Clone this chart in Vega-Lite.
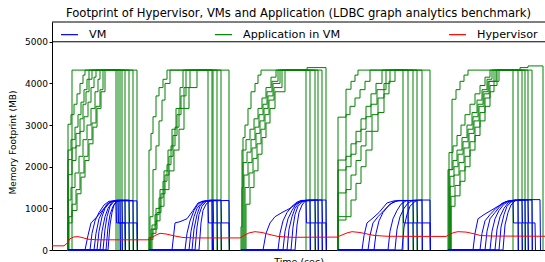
{
"$schema": "https://vega.github.io/schema/vega-lite/v6.json",
"width": 493, "height": 228,
"autosize": {"type": "none"},
"padding": {"left": 52, "top": 22, "right": 0, "bottom": 12},
"title": {"text": "Footprint of Hypervisor, VMs and Application (LDBC graph analytics benchmark)", "fontSize": 11.6, "fontWeight": "normal", "font": "DejaVu Sans", "color": "black", "anchor": "middle", "offset": 4, "dy": 11, "baseline": "alphabetic"},
"config": {"font": "DejaVu Sans", "view": {"stroke": null}, "axis": {"labelColor": "black", "titleColor": "black", "domainColor": "black", "tickColor": "black", "titleFontWeight": "normal", "grid": false, "labelFont": "DejaVu Sans", "titleFont": "DejaVu Sans"}, "legend": {"labelFont": "DejaVu Sans", "labelColor": "black"}},
"datasets": {
"frame": [{"v": 5000}, {"v": 5475}],
"hyp": [
{"s":"h","t":0,"v":100},{"s":"h","t":12,"v":100},{"s":"h","t":15,"v":160},{"s":"h","t":18,"v":270},{"s":"h","t":22,"v":315},{"s":"h","t":26,"v":320},{"s":"h","t":30,"v":300},{"s":"h","t":36,"v":260},{"s":"h","t":45,"v":245},{"s":"h","t":96,"v":245},{"s":"h","t":100,"v":300},{"s":"h","t":104,"v":360},{"s":"h","t":108,"v":400},{"s":"h","t":114,"v":385},{"s":"h","t":122,"v":340},{"s":"h","t":131,"v":300},{"s":"h","t":145,"v":290},{"s":"h","t":188,"v":290},{"s":"h","t":192,"v":350},{"s":"h","t":197,"v":410},{"s":"h","t":203,"v":440},{"s":"h","t":210,"v":420},{"s":"h","t":218,"v":370},{"s":"h","t":226,"v":325},{"s":"h","t":240,"v":305},{"s":"h","t":285,"v":310},{"s":"h","t":290,"v":360},{"s":"h","t":295,"v":410},{"s":"h","t":300,"v":440},{"s":"h","t":308,"v":420},{"s":"h","t":316,"v":380},{"s":"h","t":322,"v":350},{"s":"h","t":335,"v":330},{"s":"h","t":394,"v":325},{"s":"h","t":398,"v":380},{"s":"h","t":402,"v":420},{"s":"h","t":406,"v":440},{"s":"h","t":414,"v":430},{"s":"h","t":422,"v":390},{"s":"h","t":428,"v":350},{"s":"h","t":440,"v":335},{"s":"h","t":493,"v":330}
],
"app": [
{"s":"g11","t":15.5,"v":0},{"s":"g11","t":20,"v":4320},{"s":"g11","t":85,"v":0},
{"s":"g12","t":15.5,"v":0},{"s":"g12","t":16,"v":3020},{"s":"g12","t":19,"v":3250},{"s":"g12","t":22,"v":3500},{"s":"g12","t":25,"v":3750},{"s":"g12","t":28,"v":4000},{"s":"g12","t":31,"v":4200},{"s":"g12","t":33,"v":4320},{"s":"g12","t":66,"v":0},
{"s":"g13","t":15.5,"v":0},{"s":"g13","t":16,"v":2400},{"s":"g13","t":19,"v":2650},{"s":"g13","t":23,"v":2950},{"s":"g13","t":26,"v":3250},{"s":"g13","t":29,"v":3550},{"s":"g13","t":32,"v":3850},{"s":"g13","t":35,"v":4100},{"s":"g13","t":37,"v":4320},{"s":"g13","t":70,"v":0},
{"s":"g14","t":15.5,"v":0},{"s":"g14","t":16,"v":2170},{"s":"g14","t":20,"v":2450},{"s":"g14","t":24,"v":2800},{"s":"g14","t":28,"v":3150},{"s":"g14","t":31,"v":3500},{"s":"g14","t":34,"v":3800},{"s":"g14","t":37,"v":4100},{"s":"g14","t":40,"v":4320},{"s":"g14","t":64,"v":0},
{"s":"g15","t":15.5,"v":0},{"s":"g15","t":16,"v":1810},{"s":"g15","t":20,"v":2150},{"s":"g15","t":24,"v":2500},{"s":"g15","t":28,"v":2850},{"s":"g15","t":32,"v":3200},{"s":"g15","t":36,"v":3550},{"s":"g15","t":39,"v":3900},{"s":"g15","t":42,"v":4150},{"s":"g15","t":44,"v":4320},{"s":"g15","t":73,"v":0},
{"s":"g16","t":15.5,"v":0},{"s":"g16","t":16,"v":1200},{"s":"g16","t":19,"v":1500},{"s":"g16","t":23,"v":1850},{"s":"g16","t":27,"v":2250},{"s":"g16","t":31,"v":2650},{"s":"g16","t":35,"v":3000},{"s":"g16","t":39,"v":3400},{"s":"g16","t":43,"v":3800},{"s":"g16","t":46,"v":4100},{"s":"g16","t":48,"v":4320},{"s":"g16","t":77,"v":0},
{"s":"g17","t":16.5,"v":0},{"s":"g17","t":17,"v":800},{"s":"g17","t":20,"v":1100},{"s":"g17","t":24,"v":1450},{"s":"g17","t":28,"v":1850},{"s":"g17","t":32,"v":2250},{"s":"g17","t":36,"v":2650},{"s":"g17","t":40,"v":3050},{"s":"g17","t":44,"v":3450},{"s":"g17","t":48,"v":3850},{"s":"g17","t":51,"v":4320},{"s":"g17","t":81,"v":0},
{"s":"g18","t":15.5,"v":0},{"s":"g18","t":16,"v":650},{"s":"g18","t":20,"v":950},{"s":"g18","t":25,"v":1350},{"s":"g18","t":29,"v":1750},{"s":"g18","t":33,"v":2150},{"s":"g18","t":37,"v":2550},{"s":"g18","t":41,"v":2950},{"s":"g18","t":45,"v":3400},{"s":"g18","t":49,"v":3800},{"s":"g18","t":53,"v":4320},{"s":"g18","t":68,"v":0},
{"s":"g21","t":96.5,"v":0},{"s":"g21","t":97,"v":2400},{"s":"g21","t":99,"v":2800},{"s":"g21","t":101,"v":3200},{"s":"g21","t":104,"v":3700},{"s":"g21","t":107,"v":3900},{"s":"g21","t":111,"v":4100},{"s":"g21","t":115,"v":4320},{"s":"g21","t":156,"v":0},
{"s":"g22","t":97.5,"v":0},{"s":"g22","t":98,"v":800},{"s":"g22","t":101,"v":1930},{"s":"g22","t":104,"v":2500},{"s":"g22","t":107,"v":3100},{"s":"g22","t":110,"v":3600},{"s":"g22","t":113,"v":4000},{"s":"g22","t":118,"v":4320},{"s":"g22","t":165,"v":0},
{"s":"g23","t":96.5,"v":0},{"s":"g23","t":97,"v":300},{"s":"g23","t":100,"v":600},{"s":"g23","t":104,"v":1000},{"s":"g23","t":108,"v":1450},{"s":"g23","t":112,"v":1900},{"s":"g23","t":116,"v":2400},{"s":"g23","t":120,"v":2900},{"s":"g23","t":124,"v":3400},{"s":"g23","t":128,"v":3900},{"s":"g23","t":131,"v":4320},{"s":"g23","t":160,"v":0},
{"s":"g24","t":97.5,"v":0},{"s":"g24","t":98,"v":250},{"s":"g24","t":101,"v":500},{"s":"g24","t":105,"v":900},{"s":"g24","t":109,"v":1350},{"s":"g24","t":113,"v":1800},{"s":"g24","t":117,"v":2250},{"s":"g24","t":121,"v":2750},{"s":"g24","t":125,"v":3250},{"s":"g24","t":129,"v":3700},{"s":"g24","t":134,"v":4320},{"s":"g24","t":177,"v":0},
{"s":"g25","t":98.5,"v":0},{"s":"g25","t":99,"v":500},{"s":"g25","t":103,"v":850},{"s":"g25","t":107,"v":1250},{"s":"g25","t":111,"v":1650},{"s":"g25","t":115,"v":2050},{"s":"g25","t":119,"v":2500},{"s":"g25","t":123,"v":2950},{"s":"g25","t":127,"v":3400},{"s":"g25","t":132,"v":3900},{"s":"g25","t":138,"v":4320},{"s":"g25","t":161,"v":0},
{"s":"g26","t":99.5,"v":0},{"s":"g26","t":100,"v":400},{"s":"g26","t":104,"v":700},{"s":"g26","t":108,"v":1050},{"s":"g26","t":112,"v":1450},{"s":"g26","t":117,"v":1900},{"s":"g26","t":122,"v":2400},{"s":"g26","t":127,"v":2900},{"s":"g26","t":132,"v":3400},{"s":"g26","t":137,"v":3900},{"s":"g26","t":145,"v":4320},{"s":"g26","t":169,"v":0},
{"s":"g31","t":188.5,"v":0},{"s":"g31","t":189,"v":560},{"s":"g31","t":190,"v":1500},{"s":"g31","t":191,"v":2700},{"s":"g31","t":193,"v":3000},{"s":"g31","t":196,"v":3400},{"s":"g31","t":199,"v":3800},{"s":"g31","t":203,"v":4000},{"s":"g31","t":206,"v":4200},{"s":"g31","t":209,"v":4320},{"s":"g31","t":263,"v":0},
{"s":"g32","t":189.5,"v":0},{"s":"g32","t":190,"v":2400},{"s":"g32","t":194,"v":2650},{"s":"g32","t":198,"v":2900},{"s":"g32","t":202,"v":3150},{"s":"g32","t":206,"v":3400},{"s":"g32","t":210,"v":3650},{"s":"g32","t":214,"v":3900},{"s":"g32","t":219,"v":4150},{"s":"g32","t":224,"v":4320},{"s":"g32","t":254,"v":0},
{"s":"g33","t":190.5,"v":0},{"s":"g33","t":191,"v":2100},{"s":"g33","t":195,"v":2350},{"s":"g33","t":199,"v":2650},{"s":"g33","t":203,"v":2950},{"s":"g33","t":207,"v":3250},{"s":"g33","t":211,"v":3500},{"s":"g33","t":215,"v":3800},{"s":"g33","t":220,"v":4050},{"s":"g33","t":226,"v":4320},{"s":"g33","t":255,"v":4380},{"s":"g33","t":274,"v":0},
{"s":"g34","t":191.5,"v":0},{"s":"g34","t":192,"v":1800},{"s":"g34","t":196,"v":2100},{"s":"g34","t":200,"v":2450},{"s":"g34","t":204,"v":2800},{"s":"g34","t":208,"v":3100},{"s":"g34","t":212,"v":3400},{"s":"g34","t":216,"v":3700},{"s":"g34","t":221,"v":4000},{"s":"g34","t":228,"v":4320},{"s":"g34","t":258,"v":0},
{"s":"g35","t":192.5,"v":0},{"s":"g35","t":193,"v":1500},{"s":"g35","t":197,"v":1850},{"s":"g35","t":201,"v":2200},{"s":"g35","t":205,"v":2550},{"s":"g35","t":209,"v":2900},{"s":"g35","t":213,"v":3250},{"s":"g35","t":217,"v":3600},{"s":"g35","t":222,"v":3900},{"s":"g35","t":230,"v":4320},{"s":"g35","t":270,"v":0},
{"s":"g36","t":193.5,"v":0},{"s":"g36","t":194,"v":1100},{"s":"g36","t":198,"v":1500},{"s":"g36","t":202,"v":1900},{"s":"g36","t":206,"v":2300},{"s":"g36","t":210,"v":2700},{"s":"g36","t":214,"v":3050},{"s":"g36","t":218,"v":3400},{"s":"g36","t":223,"v":3800},{"s":"g36","t":233,"v":4320},{"s":"g36","t":266,"v":0},
{"s":"g41","t":285.5,"v":0},{"s":"g41","t":286,"v":800},{"s":"g41","t":294,"v":3860},{"s":"g41","t":299,"v":4050},{"s":"g41","t":303,"v":4200},{"s":"g41","t":306,"v":4320},{"s":"g41","t":361,"v":0},
{"s":"g42","t":285.5,"v":0},{"s":"g42","t":286,"v":3190},{"s":"g42","t":294,"v":3250},{"s":"g42","t":298,"v":3450},{"s":"g42","t":303,"v":3650},{"s":"g42","t":308,"v":3850},{"s":"g42","t":313,"v":4050},{"s":"g42","t":318,"v":4320},{"s":"g42","t":351,"v":0},
{"s":"g43","t":285.5,"v":0},{"s":"g43","t":286,"v":2160},{"s":"g43","t":294,"v":2250},{"s":"g43","t":299,"v":2550},{"s":"g43","t":304,"v":2850},{"s":"g43","t":309,"v":3150},{"s":"g43","t":314,"v":3450},{"s":"g43","t":319,"v":3750},{"s":"g43","t":324,"v":4000},{"s":"g43","t":330,"v":4320},{"s":"g43","t":378,"v":0},
{"s":"g44","t":285.5,"v":0},{"s":"g44","t":286,"v":1920},{"s":"g44","t":294,"v":2000},{"s":"g44","t":299,"v":2300},{"s":"g44","t":304,"v":2600},{"s":"g44","t":309,"v":2900},{"s":"g44","t":314,"v":3200},{"s":"g44","t":319,"v":3500},{"s":"g44","t":325,"v":3850},{"s":"g44","t":334,"v":4320},{"s":"g44","t":356,"v":0},
{"s":"g45","t":285.5,"v":0},{"s":"g45","t":286,"v":1370},{"s":"g45","t":294,"v":1450},{"s":"g45","t":299,"v":1800},{"s":"g45","t":304,"v":2150},{"s":"g45","t":309,"v":2500},{"s":"g45","t":314,"v":2850},{"s":"g45","t":320,"v":3250},{"s":"g45","t":326,"v":3650},{"s":"g45","t":332,"v":4000},{"s":"g45","t":338,"v":4320},{"s":"g45","t":370,"v":0},
{"s":"g46","t":285.5,"v":0},{"s":"g46","t":286,"v":720},{"s":"g46","t":294,"v":800},{"s":"g46","t":299,"v":1200},{"s":"g46","t":304,"v":1600},{"s":"g46","t":309,"v":2000},{"s":"g46","t":314,"v":2400},{"s":"g46","t":320,"v":2850},{"s":"g46","t":326,"v":3300},{"s":"g46","t":332,"v":3750},{"s":"g46","t":337,"v":4050},{"s":"g46","t":343,"v":4320},{"s":"g46","t":365,"v":0},
{"s":"g51","t":395.5,"v":0},{"s":"g51","t":396,"v":1930},{"s":"g51","t":400,"v":3620},{"s":"g51","t":404,"v":3850},{"s":"g51","t":408,"v":4050},{"s":"g51","t":412,"v":4200},{"s":"g51","t":416,"v":4320},{"s":"g51","t":470,"v":0},
{"s":"g52","t":396.5,"v":0},{"s":"g52","t":397,"v":2340},{"s":"g52","t":401,"v":2500},{"s":"g52","t":405,"v":2750},{"s":"g52","t":409,"v":3000},{"s":"g52","t":413,"v":3250},{"s":"g52","t":418,"v":3500},{"s":"g52","t":423,"v":3750},{"s":"g52","t":428,"v":3950},{"s":"g52","t":433,"v":4150},{"s":"g52","t":438,"v":4320},{"s":"g52","t":461,"v":0},
{"s":"g53","t":396.5,"v":0},{"s":"g53","t":397,"v":1930},{"s":"g53","t":401,"v":2150},{"s":"g53","t":405,"v":2400},{"s":"g53","t":410,"v":2700},{"s":"g53","t":415,"v":3000},{"s":"g53","t":420,"v":3300},{"s":"g53","t":425,"v":3600},{"s":"g53","t":430,"v":3850},{"s":"g53","t":435,"v":4100},{"s":"g53","t":440,"v":4320},{"s":"g53","t":468,"v":4380},{"s":"g53","t":476,"v":4420},{"s":"g53","t":491,"v":0},
{"s":"g54","t":397.5,"v":0},{"s":"g54","t":398,"v":1770},{"s":"g54","t":402,"v":2000},{"s":"g54","t":406,"v":2300},{"s":"g54","t":411,"v":2600},{"s":"g54","t":416,"v":2900},{"s":"g54","t":421,"v":3200},{"s":"g54","t":426,"v":3500},{"s":"g54","t":431,"v":3800},{"s":"g54","t":436,"v":4050},{"s":"g54","t":442,"v":4320},{"s":"g54","t":466,"v":0},
{"s":"g55","t":397.5,"v":0},{"s":"g55","t":398,"v":1530},{"s":"g55","t":402,"v":1800},{"s":"g55","t":407,"v":2100},{"s":"g55","t":412,"v":2450},{"s":"g55","t":417,"v":2800},{"s":"g55","t":422,"v":3100},{"s":"g55","t":427,"v":3450},{"s":"g55","t":432,"v":3750},{"s":"g55","t":437,"v":4050},{"s":"g55","t":444,"v":4320},{"s":"g55","t":476,"v":0},
{"s":"g56","t":398.5,"v":0},{"s":"g56","t":399,"v":1290},{"s":"g56","t":403,"v":1550},{"s":"g56","t":408,"v":1900},{"s":"g56","t":413,"v":2250},{"s":"g56","t":418,"v":2600},{"s":"g56","t":423,"v":2950},{"s":"g56","t":428,"v":3300},{"s":"g56","t":433,"v":3650},{"s":"g56","t":438,"v":3950},{"s":"g56","t":445,"v":4320},{"s":"g56","t":473,"v":0},
{"s":"g57","t":398.5,"v":0},{"s":"g57","t":399,"v":1050},{"s":"g57","t":403,"v":1300},{"s":"g57","t":408,"v":1650},{"s":"g57","t":413,"v":2000},{"s":"g57","t":418,"v":2400},{"s":"g57","t":423,"v":2750},{"s":"g57","t":428,"v":3100},{"s":"g57","t":433,"v":3450},{"s":"g57","t":438,"v":3800},{"s":"g57","t":442,"v":4050},{"s":"g57","t":447,"v":4320},{"s":"g57","t":480,"v":0}
],
"vm": [
{"s":"b11","t":16,"v":0},{"s":"b11","t":33,"v":0},{"s":"b11","t":36,"v":350},{"s":"b11","t":39,"v":650},{"s":"b11","t":45,"v":800},{"s":"b11","t":52,"v":1000},{"s":"b11","t":58,"v":1150},{"s":"b11","t":64,"v":1180},{"s":"b11","t":64.5,"v":650},{"s":"b11","t":70,"v":650},{"s":"b11","t":70.5,"v":0},
{"s":"b12","t":16,"v":0},{"s":"b12","t":38,"v":0},{"s":"b12","t":40,"v":400},{"s":"b12","t":43,"v":700},{"s":"b12","t":47,"v":900},{"s":"b12","t":52,"v":1080},{"s":"b12","t":57,"v":1170},{"s":"b12","t":66,"v":1180},{"s":"b12","t":66.5,"v":650},{"s":"b12","t":73,"v":650},{"s":"b12","t":73.5,"v":0},
{"s":"b13","t":16,"v":0},{"s":"b13","t":42,"v":0},{"s":"b13","t":44,"v":400},{"s":"b13","t":47,"v":750},{"s":"b13","t":51,"v":950},{"s":"b13","t":55,"v":1100},{"s":"b13","t":59,"v":1170},{"s":"b13","t":68,"v":1180},{"s":"b13","t":68.5,"v":0},
{"s":"b14","t":16,"v":0},{"s":"b14","t":45,"v":0},{"s":"b14","t":47,"v":450},{"s":"b14","t":50,"v":800},{"s":"b14","t":53,"v":1000},{"s":"b14","t":57,"v":1120},{"s":"b14","t":61,"v":1180},{"s":"b14","t":70,"v":1190},{"s":"b14","t":70.5,"v":650},{"s":"b14","t":77,"v":650},{"s":"b14","t":77.5,"v":0},
{"s":"b15","t":16,"v":0},{"s":"b15","t":48,"v":0},{"s":"b15","t":50,"v":450},{"s":"b15","t":53,"v":800},{"s":"b15","t":56,"v":1000},{"s":"b15","t":60,"v":1150},{"s":"b15","t":63,"v":1190},{"s":"b15","t":73,"v":1190},{"s":"b15","t":73.5,"v":0},
{"s":"b16","t":16,"v":0},{"s":"b16","t":51,"v":0},{"s":"b16","t":53,"v":500},{"s":"b16","t":55,"v":800},{"s":"b16","t":58,"v":1050},{"s":"b16","t":62,"v":1170},{"s":"b16","t":65,"v":1200},{"s":"b16","t":77,"v":1200},{"s":"b16","t":77.5,"v":650},{"s":"b16","t":85,"v":650},{"s":"b16","t":85.5,"v":0},
{"s":"b17","t":16,"v":0},{"s":"b17","t":54,"v":0},{"s":"b17","t":56,"v":550},{"s":"b17","t":58,"v":850},{"s":"b17","t":61,"v":1050},{"s":"b17","t":64,"v":1160},{"s":"b17","t":67,"v":1190},{"s":"b17","t":81,"v":1190},{"s":"b17","t":81.5,"v":0},
{"s":"b18","t":16,"v":0},{"s":"b18","t":56,"v":0},{"s":"b18","t":58,"v":600},{"s":"b18","t":60,"v":900},{"s":"b18","t":62,"v":1080},{"s":"b18","t":65,"v":1170},{"s":"b18","t":68,"v":1180},{"s":"b18","t":85,"v":1180},{"s":"b18","t":85.5,"v":0},
{"s":"b21","t":97,"v":0},{"s":"b21","t":120,"v":0},{"s":"b21","t":123,"v":650},{"s":"b21","t":128,"v":680},{"s":"b21","t":135,"v":750},{"s":"b21","t":141,"v":950},{"s":"b21","t":146,"v":1130},{"s":"b21","t":151,"v":1170},{"s":"b21","t":156,"v":1180},{"s":"b21","t":156.5,"v":650},{"s":"b21","t":161,"v":650},{"s":"b21","t":161.5,"v":0},
{"s":"b22","t":97,"v":0},{"s":"b22","t":133,"v":0},{"s":"b22","t":135,"v":400},{"s":"b22","t":138,"v":700},{"s":"b22","t":142,"v":950},{"s":"b22","t":146,"v":1100},{"s":"b22","t":150,"v":1170},{"s":"b22","t":160,"v":1180},{"s":"b22","t":160.5,"v":0},
{"s":"b23","t":97,"v":0},{"s":"b23","t":137,"v":0},{"s":"b23","t":139,"v":450},{"s":"b23","t":142,"v":800},{"s":"b23","t":145,"v":1000},{"s":"b23","t":149,"v":1120},{"s":"b23","t":153,"v":1180},{"s":"b23","t":161,"v":1190},{"s":"b23","t":161.5,"v":650},{"s":"b23","t":169,"v":650},{"s":"b23","t":169.5,"v":0},
{"s":"b24","t":97,"v":0},{"s":"b24","t":140,"v":0},{"s":"b24","t":142,"v":500},{"s":"b24","t":145,"v":850},{"s":"b24","t":148,"v":1050},{"s":"b24","t":152,"v":1150},{"s":"b24","t":156,"v":1190},{"s":"b24","t":165,"v":1190},{"s":"b24","t":165.5,"v":0},
{"s":"b25","t":97,"v":0},{"s":"b25","t":143,"v":0},{"s":"b25","t":145,"v":550},{"s":"b25","t":147,"v":850},{"s":"b25","t":150,"v":1050},{"s":"b25","t":154,"v":1160},{"s":"b25","t":158,"v":1200},{"s":"b25","t":169,"v":1200},{"s":"b25","t":169.5,"v":650},{"s":"b25","t":177,"v":650},{"s":"b25","t":177.5,"v":0},
{"s":"b26","t":97,"v":0},{"s":"b26","t":147,"v":0},{"s":"b26","t":149,"v":650},{"s":"b26","t":151,"v":950},{"s":"b26","t":154,"v":1100},{"s":"b26","t":158,"v":1180},{"s":"b26","t":177,"v":1190},{"s":"b26","t":177.5,"v":0},
{"s":"b31","t":189,"v":0},{"s":"b31","t":211,"v":0},{"s":"b31","t":214,"v":400},{"s":"b31","t":218,"v":650},{"s":"b31","t":223,"v":800},{"s":"b31","t":230,"v":900},{"s":"b31","t":238,"v":1000},{"s":"b31","t":245,"v":1120},{"s":"b31","t":251,"v":1180},{"s":"b31","t":254,"v":1190},{"s":"b31","t":254.5,"v":650},{"s":"b31","t":263,"v":650},{"s":"b31","t":263.5,"v":0},
{"s":"b32","t":189,"v":0},{"s":"b32","t":226,"v":0},{"s":"b32","t":228,"v":400},{"s":"b32","t":231,"v":700},{"s":"b32","t":235,"v":900},{"s":"b32","t":240,"v":1050},{"s":"b32","t":245,"v":1150},{"s":"b32","t":249,"v":1190},{"s":"b32","t":258,"v":1190},{"s":"b32","t":258.5,"v":0},
{"s":"b33","t":189,"v":0},{"s":"b33","t":231,"v":0},{"s":"b33","t":233,"v":450},{"s":"b33","t":236,"v":750},{"s":"b33","t":240,"v":950},{"s":"b33","t":244,"v":1100},{"s":"b33","t":248,"v":1170},{"s":"b33","t":263,"v":1190},{"s":"b33","t":263.5,"v":650},{"s":"b33","t":270,"v":650},{"s":"b33","t":270.5,"v":0},
{"s":"b34","t":189,"v":0},{"s":"b34","t":235,"v":0},{"s":"b34","t":237,"v":500},{"s":"b34","t":240,"v":800},{"s":"b34","t":243,"v":1000},{"s":"b34","t":247,"v":1130},{"s":"b34","t":251,"v":1190},{"s":"b34","t":266,"v":1200},{"s":"b34","t":266.5,"v":0},
{"s":"b35","t":189,"v":0},{"s":"b35","t":239,"v":0},{"s":"b35","t":241,"v":550},{"s":"b35","t":243,"v":850},{"s":"b35","t":246,"v":1050},{"s":"b35","t":250,"v":1150},{"s":"b35","t":254,"v":1200},{"s":"b35","t":270,"v":1200},{"s":"b35","t":270.5,"v":650},{"s":"b35","t":274,"v":650},{"s":"b35","t":274.5,"v":0},
{"s":"b36","t":189,"v":0},{"s":"b36","t":243,"v":0},{"s":"b36","t":245,"v":600},{"s":"b36","t":247,"v":900},{"s":"b36","t":250,"v":1080},{"s":"b36","t":253,"v":1170},{"s":"b36","t":257,"v":1200},{"s":"b36","t":274,"v":1200},{"s":"b36","t":274.5,"v":0},
{"s":"b41","t":286,"v":0},{"s":"b41","t":310,"v":0},{"s":"b41","t":312,"v":350},{"s":"b41","t":315,"v":650},{"s":"b41","t":320,"v":750},{"s":"b41","t":327,"v":900},{"s":"b41","t":335,"v":1130},{"s":"b41","t":342,"v":1180},{"s":"b41","t":351,"v":1190},{"s":"b41","t":351.5,"v":650},{"s":"b41","t":361,"v":650},{"s":"b41","t":361.5,"v":0},
{"s":"b42","t":286,"v":0},{"s":"b42","t":316,"v":0},{"s":"b42","t":318,"v":350},{"s":"b42","t":321,"v":650},{"s":"b42","t":326,"v":800},{"s":"b42","t":332,"v":950},{"s":"b42","t":338,"v":1100},{"s":"b42","t":345,"v":1180},{"s":"b42","t":356,"v":1190},{"s":"b42","t":356.5,"v":0},
{"s":"b43","t":286,"v":0},{"s":"b43","t":322,"v":0},{"s":"b43","t":324,"v":400},{"s":"b43","t":327,"v":700},{"s":"b43","t":331,"v":900},{"s":"b43","t":336,"v":1050},{"s":"b43","t":341,"v":1150},{"s":"b43","t":347,"v":1190},{"s":"b43","t":361,"v":1190},{"s":"b43","t":361.5,"v":650},{"s":"b43","t":365,"v":650},{"s":"b43","t":365.5,"v":0},
{"s":"b44","t":286,"v":0},{"s":"b44","t":336,"v":0},{"s":"b44","t":338,"v":450},{"s":"b44","t":341,"v":750},{"s":"b44","t":345,"v":950},{"s":"b44","t":349,"v":1100},{"s":"b44","t":354,"v":1180},{"s":"b44","t":365,"v":1200},{"s":"b44","t":365.5,"v":650},{"s":"b44","t":378,"v":650},{"s":"b44","t":378.5,"v":0},
{"s":"b45","t":286,"v":0},{"s":"b45","t":343,"v":0},{"s":"b45","t":345,"v":500},{"s":"b45","t":348,"v":800},{"s":"b45","t":352,"v":1000},{"s":"b45","t":356,"v":1130},{"s":"b45","t":361,"v":1190},{"s":"b45","t":370,"v":1200},{"s":"b45","t":370.5,"v":0},
{"s":"b46","t":286,"v":0},{"s":"b46","t":350,"v":0},{"s":"b46","t":352,"v":550},{"s":"b46","t":355,"v":850},{"s":"b46","t":358,"v":1050},{"s":"b46","t":362,"v":1150},{"s":"b46","t":366,"v":1200},{"s":"b46","t":378,"v":1200},{"s":"b46","t":378.5,"v":0},
{"s":"b51","t":396,"v":0},{"s":"b51","t":421,"v":0},{"s":"b51","t":423,"v":400},{"s":"b51","t":426,"v":750},{"s":"b51","t":432,"v":850},{"s":"b51","t":439,"v":950},{"s":"b51","t":446,"v":1050},{"s":"b51","t":453,"v":1150},{"s":"b51","t":461,"v":1190},{"s":"b51","t":461.5,"v":650},{"s":"b51","t":470,"v":650},{"s":"b51","t":470.5,"v":0},
{"s":"b52","t":396,"v":0},{"s":"b52","t":428,"v":0},{"s":"b52","t":430,"v":400},{"s":"b52","t":433,"v":700},{"s":"b52","t":438,"v":850},{"s":"b52","t":444,"v":1000},{"s":"b52","t":450,"v":1120},{"s":"b52","t":456,"v":1180},{"s":"b52","t":466,"v":1190},{"s":"b52","t":466.5,"v":0},
{"s":"b53","t":396,"v":0},{"s":"b53","t":433,"v":0},{"s":"b53","t":435,"v":450},{"s":"b53","t":438,"v":750},{"s":"b53","t":443,"v":900},{"s":"b53","t":448,"v":1050},{"s":"b53","t":453,"v":1150},{"s":"b53","t":459,"v":1190},{"s":"b53","t":470,"v":1190},{"s":"b53","t":470.5,"v":650},{"s":"b53","t":476,"v":650},{"s":"b53","t":476.5,"v":0},
{"s":"b54","t":396,"v":0},{"s":"b54","t":438,"v":0},{"s":"b54","t":440,"v":450},{"s":"b54","t":443,"v":750},{"s":"b54","t":447,"v":950},{"s":"b54","t":452,"v":1100},{"s":"b54","t":457,"v":1170},{"s":"b54","t":462,"v":1200},{"s":"b54","t":473,"v":1200},{"s":"b54","t":473.5,"v":0},
{"s":"b55","t":396,"v":0},{"s":"b55","t":443,"v":0},{"s":"b55","t":445,"v":500},{"s":"b55","t":448,"v":800},{"s":"b55","t":452,"v":1000},{"s":"b55","t":456,"v":1130},{"s":"b55","t":461,"v":1190},{"s":"b55","t":476,"v":1200},{"s":"b55","t":476.5,"v":650},{"s":"b55","t":483,"v":650},{"s":"b55","t":483.5,"v":0},
{"s":"b56","t":396,"v":0},{"s":"b56","t":447,"v":0},{"s":"b56","t":449,"v":550},{"s":"b56","t":452,"v":850},{"s":"b56","t":455,"v":1050},{"s":"b56","t":459,"v":1150},{"s":"b56","t":463,"v":1200},{"s":"b56","t":480,"v":1200},{"s":"b56","t":480.5,"v":0},
{"s":"b57","t":396,"v":0},{"s":"b57","t":451,"v":0},{"s":"b57","t":453,"v":600},{"s":"b57","t":456,"v":900},{"s":"b57","t":459,"v":1080},{"s":"b57","t":463,"v":1180},{"s":"b57","t":467,"v":1210},{"s":"b57","t":488,"v":1210},{"s":"b57","t":488.5,"v":0}
]
},
"encoding": {
"y": {"field": "v", "type": "quantitative", "scale": {"domain": [0, 5475], "nice": false, "zero": true}, "axis": {"title": "Memory Footprint (MB)", "values": [0, 1000, 2000, 3000, 4000, 5000], "format": "d", "tickSize": 3, "labelPadding": 1.5, "labelFontSize": 9, "titleFontSize": 9, "titleX": -35, "titleY": 120, "titleAngle": -90, "titleAlign": "center", "titleBaseline": "bottom"}}
},
"layer": [
{"data": {"name": "frame"}, "mark": {"type": "rule", "color": "black", "strokeWidth": 1}, "encoding": {}},
{"data": {"name": "app"}, "mark": {"type": "line", "interpolate": "step-after", "strokeWidth": 1},
 "encoding": {
  "x": {"field": "t", "type": "quantitative", "scale": {"domain": [0, 493], "nice": false, "zero": false}, "axis": {"title": "Time (sec)", "labels": false, "ticks": false, "titleFontSize": 9.5, "titlePadding": 6}},
  "detail": {"field": "s"},
  "color": {"datum": "Application in VM", "type": "nominal", "scale": {"domain": ["VM", "Application in VM", "Hypervisor"], "range": ["#0000ff", "#008000", "#ff0000"]}, "legend": {"orient": "none", "legendX": 8, "legendY": 3, "direction": "horizontal", "columns": 3, "columnPadding": 105, "title": null, "symbolType": "stroke", "symbolSize": 289, "symbolStrokeWidth": 1.2, "labelFontSize": 11.2, "labelOffset": 10, "padding": 0}}
 }},
{"data": {"name": "vm"}, "mark": {"type": "line", "strokeWidth": 1},
 "encoding": {
  "x": {"field": "t", "type": "quantitative", "scale": {"domain": [0, 493], "nice": false, "zero": false}, "axis": {"title": "Time (sec)", "labels": false, "ticks": false, "titleFontSize": 9.5, "titlePadding": 6}},
  "detail": {"field": "s"},
  "color": {"datum": "VM", "type": "nominal"}
 }},
{"data": {"name": "hyp"}, "mark": {"type": "line", "strokeWidth": 1},
 "encoding": {
  "x": {"field": "t", "type": "quantitative", "scale": {"domain": [0, 493], "nice": false, "zero": false}, "axis": {"title": "Time (sec)", "labels": false, "ticks": false, "titleFontSize": 9.5, "titlePadding": 6}},
  "detail": {"field": "s"},
  "color": {"datum": "Hypervisor", "type": "nominal"}
 }}
]
}
